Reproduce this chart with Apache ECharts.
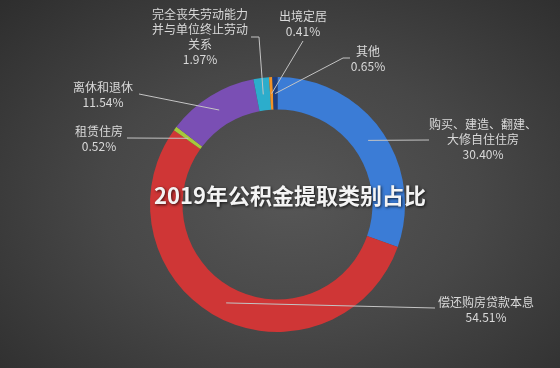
<!DOCTYPE html>
<html><head><meta charset="utf-8">
<script src="https://cdn.jsdelivr.net/npm/echarts@6/dist/echarts.min.js"></script>
<style>
html,body{margin:0;padding:0;background:#2a2a2a;}
#c{width:560px;height:368px;background:radial-gradient(ellipse 75% 80% at 52% 54%, #565656 0%, #474747 45%, #2c2c2c 100%);}
</style>
</head><body><div id="c"></div>
<script>
const categories = ['购买、建造、翻建、\n大修自住住房', '偿还购房贷款本息', '租赁住房', '离休和退休', '完全丧失劳动能力\n并与单位终止劳动\n关系', '出境定居', '其他'];
const values = [30.40, 54.51, 0.52, 11.54, 1.97, 0.41, 0.65];
const colors = ['#3b7cd6', '#cf3636', '#a6c83c', '#7a4fb4', '#2cadcc', '#f29226', '#1e3f80'];
const titleText = '2019年公积金提取类别占比';

// label block centres and leader-line end points (label side)
const labelSpots = [
  {x: 483, y: 139, line: [[429, 140]]},
  {x: 486, y: 310, line: [[435, 308]]},
  {x: 99,  y: 139, line: [[127, 138]]},
  {x: 103, y: 95,  line: [[139, 94]]},
  {x: 200, y: 37,  line: [[259, 37], [251, 37]]},
  {x: 303, y: 24,  line: [[303, 41]]},
  {x: 368, y: 59,  line: [[343, 58], [350, 58]]}
];

const chart = echarts.init(document.getElementById('c'), null, {renderer: 'canvas'});
const pieData = categories.map((n, i) => ({name: n, value: values[i], itemStyle: {color: colors[i]}}));
const center = [277.5, 204.5];

chart.setOption({
  backgroundColor: 'transparent',
  animation: false,
  graphic: [{
    type: 'text', x: 290, y: 196, z: 100,
    style: {
      text: titleText, align: 'center', verticalAlign: 'middle',
      font: 'bold 22px "Noto Sans CJK SC", sans-serif',
      fill: '#f4f4f4',
      textShadowColor: 'rgba(0,0,0,0.75)', textShadowBlur: 3, textShadowOffsetX: 1, textShadowOffsetY: 1
    }
  }],
  series: [{
    type: 'pie',
    center: center,
    radius: [95, 127.5],
    startAngle: 90,
    clockwise: true,
    silent: true,
    avoidLabelOverlap: false,
    label: {show: false},
    labelLine: {show: false},
    itemStyle: {borderWidth: 0},
    data: pieData
  }, {
    type: 'pie',
    center: center,
    radius: [0, 111],
    startAngle: 90,
    clockwise: true,
    silent: true,
    avoidLabelOverlap: false,
    z: 3,
    itemStyle: {color: 'rgba(0,0,0,0)', borderWidth: 0},
    label: {
      show: true, position: 'outside',
      color: '#d9d9d9', fontSize: 12, lineHeight: 15,
      fontFamily: '"Noto Sans CJK SC", sans-serif',
      formatter: p => p.name + '\n' + values[p.dataIndex].toFixed(2) + '%'
    },
    labelLine: {show: true, length: 8, length2: 8, lineStyle: {color: '#c4c4c4', width: 1}},
    labelLayout: function (params) {
      const s = labelSpots[params.dataIndex];
      const anchor = params.labelLinePoints ? params.labelLinePoints[0] : null;
      const res = {x: s.x, y: s.y, align: 'center', verticalAlign: 'middle'};
      if (anchor) {
        res.labelLinePoints = [anchor].concat(s.line);
      }
      return res;
    },
    data: categories.map((n, i) => ({name: n, value: values[i]}))
  }]
});
</script>
</body></html>
